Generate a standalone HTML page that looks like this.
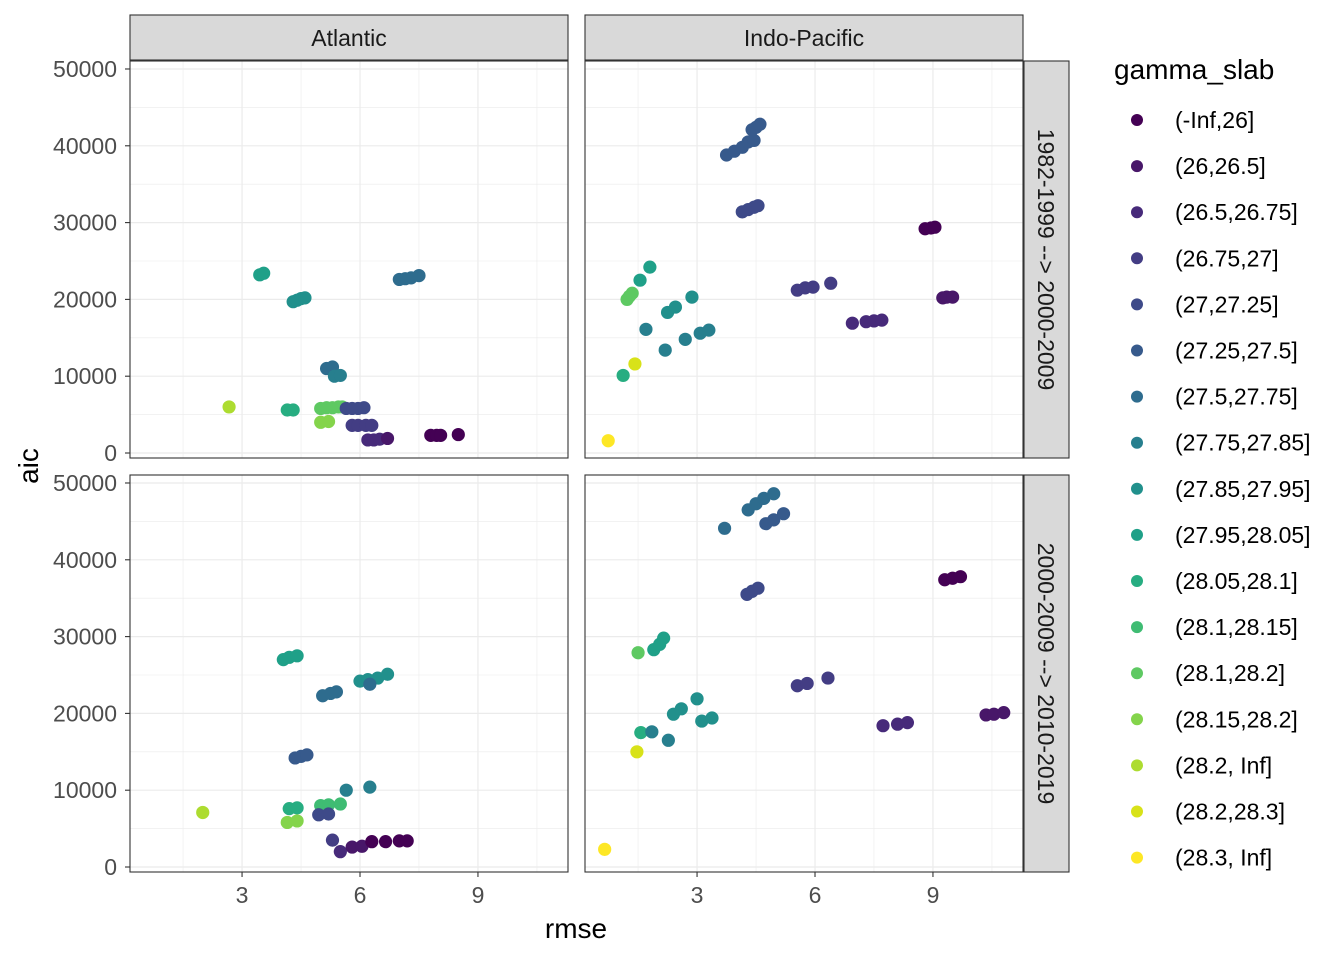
<!DOCTYPE html>
<html><head><meta charset="utf-8"><style>
body{margin:0;background:#fff;}
svg{display:block;font-family:"Liberation Sans",Arial,sans-serif;}
</style></head><body>
<svg id="chart" width="1344" height="960" viewBox="0 0 1344 960" xmlns="http://www.w3.org/2000/svg">
<rect width="1344" height="960" fill="#fff"/>
</svg>
<script>
const categories=["(-Inf,26]","(26,26.5]","(26.5,26.75]","(26.75,27]","(27,27.25]","(27.25,27.5]","(27.5,27.75]","(27.75,27.85]","(27.85,27.95]","(27.95,28.05]","(28.05,28.1]","(28.1,28.15]","(28.1,28.2]","(28.15,28.2]","(28.2, Inf]","(28.2,28.3]","(28.3, Inf]"];
const palette=["#440154","#481769","#472A7A","#433D84","#3E4A89","#375A8C","#2E6C8E","#277F8E","#21908C","#1FA088","#27AD81","#3FBC73","#5EC962","#84D44B","#ADDC30","#D8E219","#FDE725"];
const xTicks=[3,6,9];
const yTicks=[0,10000,20000,30000,40000,50000];
const colFacets=["Atlantic","Indo-Pacific"];
const rowFacets=["1982-1999 --> 2000-2009","2000-2009 --> 2010-2019"];
// Atlantic 1982
const atl1_x=[3.45,3.55,4.3,4.4,4.5,4.6,7.0,7.15,7.3,7.5,5.15,5.3,5.35,5.5,2.67,4.15,4.3,5.0,5.15,5.3,5.45,5.55,5.0,5.2,5.65,5.8,5.95,6.1,5.8,5.95,6.15,6.3,6.2,6.35,6.5,6.7,7.8,7.95,8.05,8.5];
const atl1_y=[23200,23400,19700,19900,20100,20200,22600,22700,22800,23100,11000,11200,10000,10100,6000,5600,5600,5800,5900,5900,6000,6000,4000,4100,5800,5800,5800,5900,3600,3600,3600,3600,1700,1700,1800,1900,2300,2300,2300,2400];
const atl1_c=[9,9,8,8,8,8,6,6,6,6,6,6,7,7,14,10,10,12,12,12,12,12,13,13,4,4,4,4,3,3,3,3,2,2,2,1,0,0,0,0];
// Indo-Pacific 1982
const ind1_x=[3.75,3.95,4.15,4.3,4.45,4.4,4.5,4.6,4.15,4.3,4.45,4.55,8.8,8.95,9.05,9.25,9.35,9.5,5.55,5.75,5.95,6.4,6.95,7.3,7.5,7.7,1.55,1.8,1.22,1.28,1.35,2.25,2.45,2.87,1.7,2.19,2.7,3.08,3.3,1.12,1.42,0.74];
const ind1_y=[38800,39300,39800,40500,40700,42100,42400,42800,31400,31700,32000,32200,29200,29300,29400,20200,20300,20300,21200,21500,21600,22100,16900,17100,17200,17300,22500,24200,20000,20400,20800,18300,19000,20300,16100,13400,14800,15600,16000,10100,11600,1600];
const ind1_c=[5,5,5,5,5,5,5,5,4,4,4,4,0,0,0,1,1,1,3,3,3,3,2,2,2,2,9,9,12,12,12,8,8,8,7,7,7,7,7,10,15,16];
// Atlantic 2000
const atl2_x=[4.05,4.2,4.4,6.0,6.2,6.45,6.7,6.25,5.05,5.25,5.4,4.35,4.5,4.65,5.65,6.25,2.0,4.2,4.4,4.15,4.4,5.0,5.2,5.5,4.95,5.2,5.3,5.5,5.8,6.05,6.3,6.65,7.0,7.2];
const atl2_y=[27000,27300,27500,24200,24400,24600,25100,23800,22300,22600,22800,14200,14400,14600,10000,10400,7100,7600,7700,5800,6000,8000,8100,8200,6800,6900,3500,2000,2600,2700,3300,3300,3400,3400];
const atl2_c=[9,9,9,8,8,8,8,6,6,6,6,5,5,5,7,7,14,10,10,13,13,11,11,11,4,4,3,2,1,1,0,0,0,0];
// Indo-Pacific 2000
const ind2_x=[4.3,4.5,4.7,4.95,4.75,4.95,5.2,3.7,4.27,4.4,4.55,9.3,9.5,9.7,10.35,10.55,10.8,5.55,5.8,6.33,7.73,8.1,8.35,1.9,2.05,2.15,1.5,2.4,2.6,3.0,3.12,3.38,1.57,1.85,2.27,1.47,0.65];
const ind2_y=[46500,47300,48000,48600,44700,45200,46000,44100,35500,35900,36300,37400,37600,37800,19800,19900,20100,23600,23900,24600,18400,18600,18800,28300,29000,29800,27900,19900,20600,21900,19000,19400,17500,17600,16500,15000,2300];
const ind2_c=[6,6,6,6,5,5,5,6,4,4,4,0,0,0,1,1,1,3,3,3,2,2,2,9,9,9,12,8,8,8,8,8,10,7,7,15,16];

const NS="http://www.w3.org/2000/svg";
const svg=document.getElementById("chart");
function el(tag,attrs,parent){const e=document.createElementNS(NS,tag);for(const k in attrs)e.setAttribute(k,attrs[k]);(parent||svg).appendChild(e);return e;}

const colX=[130,585], rowY=[61,475], PW=438, PH=397;
const X0=0.15, X1=11.29, Y0=-650, Y1=51040;
function sx(c,v){return colX[c]+(v-X0)/(X1-X0)*PW;}
function sy(r,v){return rowY[r]+PH-(v-Y0)/(Y1-Y0)*PH;}

const panels=[[atl1_x,atl1_y,atl1_c],[ind1_x,ind1_y,ind1_c],[atl2_x,atl2_y,atl2_c],[ind2_x,ind2_y,ind2_c]];
const minorX=[1.5,4.5,7.5,10.5];
const minorY=[5000,15000,25000,35000,45000];
for(let r=0;r<2;r++)for(let c=0;c<2;c++){
  const g=el("g",{});
  
  
  el("rect",{x:colX[c],y:rowY[r],width:PW,height:PH,fill:"#fff"},g);
  minorX.forEach(v=>el("line",{x1:sx(c,v),x2:sx(c,v),y1:rowY[r],y2:rowY[r]+PH,stroke:"#EBEBEB","stroke-width":0.6},g));
  minorY.forEach(v=>el("line",{x1:colX[c],x2:colX[c]+PW,y1:sy(r,v),y2:sy(r,v),stroke:"#EBEBEB","stroke-width":0.6},g));
  xTicks.forEach(v=>el("line",{x1:sx(c,v),x2:sx(c,v),y1:rowY[r],y2:rowY[r]+PH,stroke:"#EBEBEB","stroke-width":1.2},g));
  yTicks.forEach(v=>el("line",{x1:colX[c],x2:colX[c]+PW,y1:sy(r,v),y2:sy(r,v),stroke:"#EBEBEB","stroke-width":1.2},g));
  const [xs,ys,cs]=panels[r*2+c];
  for(let i=0;i<xs.length;i++){
    const p=el("circle",{cx:sx(c,xs[i]),cy:sy(r,ys[i]),r:6.6,fill:palette[cs[i]]},g);
    
    
  }
  el("rect",{x:colX[c],y:rowY[r],width:PW,height:PH,fill:"none",stroke:"#333","stroke-width":1.1},g);
}
// top strips
colFacets.forEach((t,c)=>{
  const s=el("rect",{x:colX[c],y:15,width:PW,height:45,fill:"#D9D9D9",stroke:"#333","stroke-width":1.1});
  
  
  const tx=el("text",{x:colX[c]+PW/2,y:46,"text-anchor":"middle","font-size":23,fill:"#1A1A1A"});
  tx.textContent=t;
  
  
});
rowFacets.forEach((t,r)=>{
  const s=el("rect",{x:1024,y:rowY[r],width:45,height:PH,fill:"#D9D9D9",stroke:"#333","stroke-width":1.1});
  
  
  const cy=rowY[r]+PH/2;
  const tx=el("text",{x:1038,y:cy,"text-anchor":"middle","font-size":23,fill:"#1A1A1A",transform:"rotate(90 1038 "+cy+")"});
  tx.textContent=t;
  
  
});
// y axes
for(let r=0;r<2;r++){
  yTicks.forEach(v=>{
    el("line",{x1:125,x2:130,y1:sy(r,v),y2:sy(r,v),stroke:"#333","stroke-width":1.1});
    const t=el("text",{x:117,y:sy(r,v)+8,"text-anchor":"end","font-size":23,fill:"#4D4D4D"});
    t.textContent=String(v);
    
    
  });
}
for(let c=0;c<2;c++){
  xTicks.forEach(v=>{
    el("line",{x1:sx(c,v),x2:sx(c,v),y1:872,y2:877,stroke:"#333","stroke-width":1.1});
    const t=el("text",{x:sx(c,v),y:903,"text-anchor":"middle","font-size":23,fill:"#4D4D4D"});
    t.textContent=String(v);
    
    
  });
}
const xt=el("text",{x:576,y:938,"text-anchor":"middle","font-size":28,fill:"#000"});
xt.textContent="rmse";


const yt=el("text",{x:38,y:466,"text-anchor":"middle","font-size":28,fill:"#000",transform:"rotate(-90 38 466)"});
yt.textContent="aic";


// legend
const lt=el("text",{x:1114,y:79,"font-size":28,fill:"#000"});
lt.textContent="gamma_slab";


categories.forEach((cat,i)=>{
  const y=120+i*46.1;
  const g=el("g",{});
  
  
  el("circle",{cx:1137,cy:y,r:6,fill:palette[i]},g);
  const t=el("text",{x:1175,y:y+8,"font-size":23,fill:"#000"},g);
  t.textContent=cat;
});
</script>
</body></html>
